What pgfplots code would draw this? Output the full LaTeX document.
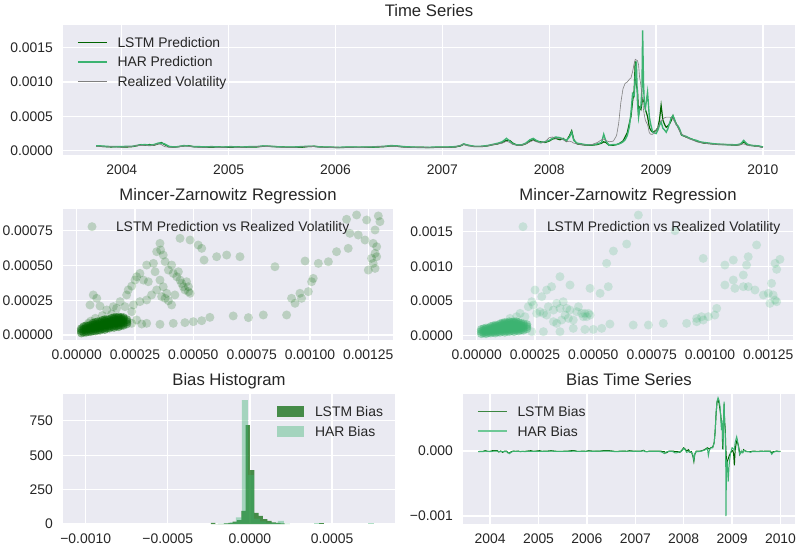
\documentclass[border=0pt]{standalone}
\usepackage{fontspec}
\setmainfont{Liberation Sans}
\usepackage{pgfplots}
\pgfplotsset{compat=1.18}
\usepackage{pgfplotstable}
\definecolor{axbg}{HTML}{EAEAF2}
\definecolor{txt}{HTML}{262626}
\definecolor{dgreen}{RGB}{0,100,0}
\definecolor{msgreen}{RGB}{60,179,113}
\definecolor{lstmleg}{RGB}{60,135,65}
\definecolor{harleg}{RGB}{110,200,150}

\pgfplotstableread{
t rv lstm har
2003.76 6e-5 7e-5 7e-5
2003.80 6e-5 6.5e-5 7e-5
2003.85 5.5e-5 6e-5 6.5e-5
2003.90 6e-5 5.5e-5 6e-5
2003.95 5.5e-5 6e-5 6e-5
2004.00 5e-5 5.5e-5 6e-5
2004.05 6e-5 5.5e-5 6.5e-5
2004.10 6.5e-5 6e-5 6.5e-5
2004.15 8e-5 7.5e-5 8e-5
2004.18 7.5e-5 9e-5 8.5e-5
2004.22 8e-5 8e-5 9e-5
2004.26 7e-5 9e-5 8e-5
2004.30 8e-5 8e-5 9e-5
2004.34 10e-5 10e-5 11e-5
2004.37 9e-5 12e-5 11e-5
2004.40 6e-5 9e-5 10e-5
2004.44 5e-5 6e-5 6.5e-5
2004.48 5e-5 5e-5 5.5e-5
2004.53 5.5e-5 6e-5 6e-5
2004.58 7e-5 7e-5 7.5e-5
2004.62 6.5e-5 7.5e-5 7e-5
2004.67 5.5e-5 6e-5 6e-5
2004.72 5e-5 5.5e-5 6e-5
2004.78 5e-5 5e-5 5.5e-5
2004.84 5.5e-5 5e-5 6e-5
2004.90 5e-5 5.5e-5 5.5e-5
2004.96 5e-5 5e-5 5.5e-5
2005.02 5.5e-5 5e-5 6e-5
2005.08 5e-5 5.5e-5 5.5e-5
2005.14 5e-5 5e-5 5.5e-5
2005.20 5.5e-5 5.5e-5 6e-5
2005.26 6e-5 5.5e-5 6e-5
2005.32 6.5e-5 6.5e-5 7e-5
2005.38 6e-5 6.5e-5 6.5e-5
2005.44 5.5e-5 6e-5 6e-5
2005.50 5e-5 5.5e-5 5.5e-5
2005.56 5e-5 5e-5 5.5e-5
2005.62 5e-5 5e-5 5.5e-5
2005.68 5.5e-5 5e-5 6e-5
2005.74 6.5e-5 6e-5 6.5e-5
2005.80 6e-5 6.5e-5 6.5e-5
2005.86 5e-5 5.5e-5 5.5e-5
2005.92 5e-5 5e-5 5.5e-5
2005.98 4.5e-5 5e-5 5e-5
2006.04 5e-5 4.5e-5 5e-5
2006.10 5e-5 5e-5 5.5e-5
2006.16 5e-5 5e-5 5.5e-5
2006.22 5e-5 5e-5 5e-5
2006.28 5e-5 5e-5 5.5e-5
2006.34 5.5e-5 5e-5 5.5e-5
2006.40 6e-5 5.5e-5 6e-5
2006.46 6.5e-5 6e-5 6.5e-5
2006.52 7e-5 7e-5 7.5e-5
2006.58 6e-5 6.5e-5 7e-5
2006.64 5e-5 5.5e-5 6e-5
2006.70 5e-5 5e-5 5.5e-5
2006.76 5e-5 5e-5 5e-5
2006.82 4.5e-5 5e-5 5e-5
2006.88 5e-5 4.5e-5 5e-5
2006.94 5e-5 5e-5 5.5e-5
2007.00 5e-5 5e-5 5.5e-5
2007.06 5e-5 5e-5 5.5e-5
2007.12 5.5e-5 5.5e-5 6e-5
2007.17 8e-5 7e-5 7.5e-5
2007.20 9e-5 9.5e-5 10e-5
2007.24 7e-5 8e-5 8e-5
2007.30 6e-5 6e-5 6.5e-5
2007.36 6e-5 6e-5 6.5e-5
2007.42 7e-5 7e-5 7.5e-5
2007.48 9e-5 9e-5 9.5e-5
2007.52 10e-5 10e-5 11e-5
2007.56 11e-5 12e-5 13e-5
2007.60 14e-5 15e-5 18e-5
2007.63 12e-5 15e-5 14e-5
2007.66 9e-5 11e-5 10e-5
2007.70 8e-5 8e-5 8.5e-5
2007.74 8e-5 8e-5 8.5e-5
2007.78 10e-5 10e-5 11e-5
2007.82 13e-5 14e-5 16e-5
2007.85 15e-5 16e-5 18e-5
2007.88 13e-5 14e-5 15e-5
2007.92 11e-5 13e-5 12e-5
2007.96 13e-5 12e-5 13e-5
2008.00 19e-5 14e-5 15e-5
2008.03 20e-5 17e-5 18e-5
2008.06 18e-5 18e-5 20e-5
2008.10 18e-5 16e-5 19e-5
2008.13 16e-5 18e-5 17e-5
2008.16 13e-5 14e-5 15e-5
2008.19 14e-5 22e-5 20e-5
2008.21 13e-5 29e-5 27e-5
2008.23 11e-5 16e-5 15e-5
2008.26 10e-5 10e-5 11e-5
2008.30 9e-5 9e-5 10e-5
2008.35 8e-5 8e-5 8.5e-5
2008.40 9e-5 8e-5 8.5e-5
2008.45 12e-5 9e-5 10e-5
2008.49 16e-5 11e-5 12e-5
2008.51 17e-5 13e-5 24e-5
2008.53 15e-5 12e-5 14e-5
2008.56 13e-5 8e-5 8e-5
2008.60 14e-5 8e-5 9e-5
2008.63 22e-5 9e-5 9e-5
2008.65 40e-5 10e-5 10e-5
2008.67 70e-5 12e-5 11e-5
2008.69 90e-5 14e-5 13e-5
2008.71 98e-5 20e-5 16e-5
2008.73 100e-5 26e-5 22e-5
2008.75 104e-5 40e-5 35e-5
2008.765 106e-5 50e-5 55e-5
2008.78 115e-5 72e-5 83e-5
2008.795 127e-5 88e-5 80e-5
2008.805 133e-5 130e-5 110e-5
2008.815 132e-5 95e-5 130e-5
2008.826 131e-5 88e-5 70e-5
2008.836 125e-5 52e-5 49e-5
2008.845 108e-5 63e-5 60e-5
2008.858 95e-5 60e-5 65e-5
2008.868 80e-5 70e-5 90e-5
2008.874 75e-5 75e-5 175e-5
2008.882 60e-5 72e-5 100e-5
2008.89 52e-5 73e-5 68e-5
2008.90 44e-5 60e-5 62e-5
2008.92 38e-5 50e-5 85e-5
2008.937 26e-5 34e-5 49e-5
2008.95 24e-5 30e-5 38e-5
2008.968 24e-5 27e-5 27e-5
2008.984 27e-5 28e-5 26e-5
2009.00 30e-5 30e-5 25e-5
2009.016 34e-5 33e-5 30e-5
2009.032 40e-5 45e-5 37e-5
2009.047 44e-5 66e-5 42e-5
2009.063 46e-5 45e-5 33e-5
2009.08 48e-5 38e-5 30e-5
2009.095 49e-5 34e-5 27e-5
2009.11 49e-5 36e-5 32e-5
2009.126 49e-5 39e-5 40e-5
2009.142 48e-5 44e-5 48e-5
2009.158 46e-5 51e-5 51e-5
2009.174 42e-5 44e-5 45e-5
2009.189 38e-5 39e-5 38e-5
2009.205 33e-5 35e-5 36e-5
2009.221 28e-5 30e-5 31e-5
2009.237 25e-5 23e-5 24e-5
2009.252 23e-5 22e-5 22e-5
2009.28 20e-5 20e-5 21e-5
2009.315 17e-5 18e-5 18e-5
2009.35 15e-5 16e-5 16e-5
2009.38 13e-5 14e-5 15e-5
2009.41 12e-5 12.5e-5 13e-5
2009.45 11e-5 11e-5 12e-5
2009.50 10e-5 10.5e-5 11e-5
2009.55 9e-5 9.5e-5 10e-5
2009.60 9e-5 9e-5 9.5e-5
2009.65 8.5e-5 9e-5 9e-5
2009.70 8.5e-5 8.5e-5 9e-5
2009.75 8e-5 8e-5 8.5e-5
2009.79 9e-5 9e-5 10e-5
2009.82 10e-5 13e-5 15e-5
2009.85 8e-5 9e-5 10e-5
2009.88 7e-5 8e-5 8e-5
2009.92 7e-5 7e-5 7.5e-5
2009.96 6e-5 6.5e-5 7e-5
2010.00 4.5e-5 5e-5 5.5e-5
}\tsdata

\pgfplotsset{
  sbstyle/.style={
    scale only axis, anchor=south west,
    axis background/.style={fill=axbg},
    separate axis lines, axis line style={draw=none},
    grid=major, major grid style={white, line width=1.3pt},
    major tick length=0pt, tick style={draw=none},
    scaled ticks=false,
    tick label style={font=\fontsize{13.9}{16}\selectfont, text=txt},
    xticklabel style={anchor=north, inner sep=0pt, yshift=-9.3pt},
    yticklabel style={anchor=east, inner sep=0pt, xshift=-10pt},
    title style={font=\fontsize{16.7}{20}\selectfont, text=txt, anchor=base, at={(0.5,1)}, yshift=2.5pt},
    legend cell align=left,
    legend style={draw opacity=0, fill opacity=0, text opacity=1, inner sep=0pt, outer sep=0pt, anchor=north west,
      font=\fontsize{13.9}{16}\selectfont\color{txt},
      nodes={inner sep=0pt, text height=9.95pt, text depth=0pt}},
  },
}

\begin{document}
\begin{tikzpicture}
\path[use as bounding box] (0pt,0pt) rectangle (800pt,550pt);

% Top: Time Series
\begin{axis}[sbstyle, at={(63pt,395pt)}, width=732pt, height=130pt,
  title={Time Series},
  xmin=2003.45, xmax=2010.30, ymin=-0.000062, ymax=0.00183,
  xtick={2004,2005,2006,2007,2008,2009,2010},
  xticklabels={2004,2005,2006,2007,2008,2009,2010},
  ytick={0,0.0005,0.001,0.0015},
  yticklabels={0.0000,0.0005,0.0010,0.0015},
  legend style={at={(0.01913,0.9054)}, row sep=9.55pt, column sep=10pt}]
\addplot[dgreen, line width=1.2pt,
  legend image code/.code={\draw[draw=dgreen, draw opacity=1, line width=1.5pt] (0pt,0pt) -- (29pt,0pt);}]
  table[x=t, y=lstm] {\tsdata};
\addlegendentry{LSTM Prediction}
\addplot[msgreen, line width=1.4pt,
  legend image code/.code={\draw[draw=msgreen, draw opacity=1, line width=1.5pt] (0pt,0pt) -- (29pt,0pt);}]
  table[x=t, y=har] {\tsdata};
\addlegendentry{HAR Prediction}
\addplot[gray, line width=0.6pt,
  legend image code/.code={\draw[draw=gray, draw opacity=1, line width=0.8pt] (0pt,0pt) -- (29pt,0pt);}]
  table[x=t, y=rv] {\tsdata};
\addlegendentry{Realized Volatility}
\end{axis}

% Middle left: MZ LSTM
\begin{axis}[sbstyle, at={(63pt,210pt)}, width=330pt, height=131pt,
  title={Mincer-Zarnowitz Regression},
  xmin=-0.0000587, xmax=0.001356, ymin=-0.0000359, ymax=0.000906,
  xtick={0,0.00025,0.0005,0.00075,0.001,0.00125},
  xticklabels={0.00000,0.00025,0.00050,0.00075,0.00100,0.00125},
  ytick={0,0.00025,0.0005,0.00075},
  yticklabels={0.00000,0.00025,0.00050,0.00075},
  legend style={at={(0.04545,0.9031)}, column sep=10pt}]
\addplot[only marks, mark=*, mark size=4.5pt,
  mark options={draw=dgreen, draw opacity=0, fill=dgreen, fill opacity=0.2},
  legend image code/.code={\path[draw=none,fill=none] (0pt,0pt) -- (28pt,0pt); \fill[fill=dgreen, fill opacity=0.2, draw=none] (14pt,0pt) circle (4.5pt);}]
coordinates {
(1.157e-3,0.832e-3) (1.200e-3,0.863e-3) (1.243e-3,0.827e-3) (1.293e-3,0.856e-3) (1.300e-3,0.815e-3)
(1.207e-3,0.719e-3) (1.171e-3,0.731e-3) (1.279e-3,0.755e-3) (1.271e-3,0.659e-3) (1.286e-3,0.635e-3)
(1.264e-3,0.551e-3) (1.279e-3,0.587e-3) (1.286e-3,0.563e-3) (1.271e-3,0.515e-3) (1.250e-3,0.467e-3)
(1.279e-3,0.479e-3) (1.236e-3,0.683e-3) (1.114e-3,0.599e-3) (1.164e-3,0.623e-3) (1.079e-3,0.527e-3)
(1.036e-3,0.515e-3) (0.979e-3,0.532e-3) (1.014e-3,0.407e-3) (1.007e-3,0.383e-3) (0.993e-3,0.312e-3)
(0.964e-3,0.264e-3) (0.957e-3,0.300e-3) (0.936e-3,0.228e-3) (0.921e-3,0.264e-3) (0.900e-3,0.144e-3)
(0.850e-3,0.491e-3) (0.800e-3,0.144e-3) (0.736e-3,0.125e-3) (0.671e-3,0.137e-3) (0.571e-3,0.127e-3)
(0.536e-3,0.103e-3) (0.500e-3,0.096e-3) (0.464e-3,0.089e-3) (0.414e-3,0.084e-3) (0.357e-3,0.077e-3)
(0.279e-3,0.079e-3) (0.236e-3,0.084e-3)
(0.221e-3,0.324e-3) (0.236e-3,0.352e-3) (0.250e-3,0.395e-3) (0.257e-3,0.419e-3) (0.271e-3,0.443e-3)
(0.286e-3,0.395e-3) (0.300e-3,0.503e-3) (0.307e-3,0.383e-3) (0.329e-3,0.515e-3) (0.336e-3,0.455e-3)
(0.343e-3,0.599e-3) (0.357e-3,0.659e-3) (0.360e-3,0.611e-3) (0.371e-3,0.575e-3) (0.379e-3,0.527e-3)
(0.393e-3,0.467e-3) (0.407e-3,0.503e-3) (0.414e-3,0.443e-3) (0.443e-3,0.695e-3) (0.486e-3,0.683e-3)
(0.521e-3,0.647e-3) (0.536e-3,0.623e-3) (0.546e-3,0.539e-3) (0.600e-3,0.563e-3) (0.643e-3,0.575e-3)
(0.700e-3,0.563e-3) (0.357e-3,0.395e-3) (0.371e-3,0.347e-3) (0.364e-3,0.276e-3) (0.379e-3,0.264e-3)
(0.393e-3,0.247e-3) (0.407e-3,0.216e-3) (0.386e-3,0.300e-3) (0.421e-3,0.288e-3) (0.429e-3,0.419e-3)
(0.443e-3,0.395e-3) (0.450e-3,0.371e-3) (0.457e-3,0.347e-3) (0.464e-3,0.324e-3) (0.471e-3,0.383e-3)
(0.479e-3,0.347e-3) (0.479e-3,0.312e-3) (0.486e-3,0.300e-3) (0.436e-3,0.455e-3) (0.343e-3,0.324e-3)
(0.321e-3,0.288e-3) (0.300e-3,0.252e-3) (0.271e-3,0.240e-3) (0.243e-3,0.216e-3) (0.214e-3,0.288e-3)
(0.186e-3,0.240e-3) (0.157e-3,0.204e-3) (0.086e-3,0.264e-3) (0.071e-3,0.288e-3) (0.057e-3,0.216e-3)
(0.100e-3,0.208e-3) (0.129e-3,0.180e-3) (0.171e-3,0.192e-3) (0.207e-3,0.204e-3) (0.236e-3,0.168e-3)
(0.257e-3,0.108e-3) (0.300e-3,0.084e-3)
(0.06e-3,0.10e-3) (0.08e-3,0.12e-3) (0.05e-3,0.085e-3) (0.11e-3,0.14e-3) (0.15e-3,0.15e-3)
};
\addlegendentry{LSTM Prediction vs Realized Volatility}
\addplot[forget plot, only marks, mark=*, mark size=4.5pt,
  mark options={draw=dgreen, draw opacity=0, fill=dgreen, fill opacity=0.45}]
coordinates {
(0.02e-3,0.015e-3) (0.02e-3,0.03e-3) (0.02e-3,0.045e-3)
(0.03e-3,0.02e-3) (0.03e-3,0.04e-3) (0.03e-3,0.06e-3)
(0.04e-3,0.02e-3) (0.04e-3,0.035e-3) (0.04e-3,0.05e-3) (0.04e-3,0.065e-3)
(0.05e-3,0.025e-3) (0.05e-3,0.045e-3) (0.05e-3,0.065e-3)
(0.06e-3,0.025e-3) (0.06e-3,0.04e-3) (0.06e-3,0.055e-3) (0.06e-3,0.07e-3)
(0.07e-3,0.03e-3) (0.07e-3,0.05e-3) (0.07e-3,0.07e-3) (0.07e-3,0.085e-3)
(0.08e-3,0.03e-3) (0.08e-3,0.045e-3) (0.08e-3,0.06e-3) (0.08e-3,0.075e-3) (0.08e-3,0.09e-3)
(0.09e-3,0.035e-3) (0.09e-3,0.055e-3) (0.09e-3,0.075e-3) (0.09e-3,0.095e-3)
(0.10e-3,0.035e-3) (0.10e-3,0.05e-3) (0.10e-3,0.065e-3) (0.10e-3,0.08e-3) (0.10e-3,0.095e-3)
(0.11e-3,0.045e-3) (0.11e-3,0.065e-3) (0.11e-3,0.085e-3) (0.11e-3,0.105e-3)
(0.12e-3,0.04e-3) (0.12e-3,0.055e-3) (0.12e-3,0.07e-3) (0.12e-3,0.085e-3) (0.12e-3,0.10e-3) (0.12e-3,0.11e-3)
(0.13e-3,0.05e-3) (0.13e-3,0.07e-3) (0.13e-3,0.09e-3) (0.13e-3,0.11e-3)
(0.14e-3,0.05e-3) (0.14e-3,0.065e-3) (0.14e-3,0.08e-3) (0.14e-3,0.095e-3) (0.14e-3,0.11e-3)
(0.15e-3,0.06e-3) (0.15e-3,0.08e-3) (0.15e-3,0.10e-3) (0.15e-3,0.12e-3)
(0.16e-3,0.055e-3) (0.16e-3,0.07e-3) (0.16e-3,0.085e-3) (0.16e-3,0.10e-3) (0.16e-3,0.115e-3) (0.16e-3,0.125e-3)
(0.17e-3,0.065e-3) (0.17e-3,0.085e-3) (0.17e-3,0.105e-3) (0.17e-3,0.125e-3)
(0.18e-3,0.06e-3) (0.18e-3,0.075e-3) (0.18e-3,0.09e-3) (0.18e-3,0.105e-3) (0.18e-3,0.12e-3) (0.18e-3,0.13e-3)
(0.19e-3,0.07e-3) (0.19e-3,0.09e-3) (0.19e-3,0.11e-3) (0.19e-3,0.125e-3)
(0.20e-3,0.07e-3) (0.20e-3,0.085e-3) (0.20e-3,0.10e-3) (0.20e-3,0.115e-3) (0.20e-3,0.125e-3)
(0.215e-3,0.08e-3) (0.215e-3,0.095e-3) (0.215e-3,0.11e-3)
};
\end{axis}

% Middle right: MZ HAR
\begin{axis}[sbstyle, at={(463pt,210pt)}, width=330pt, height=131pt,
  title={Mincer-Zarnowitz Regression},
  xmin=-0.0000587, xmax=0.001356, ymin=-0.000062, ymax=0.001827,
  xtick={0,0.00025,0.0005,0.00075,0.001,0.00125},
  xticklabels={0.00000,0.00025,0.00050,0.00075,0.00100,0.00125},
  ytick={0,0.0005,0.001,0.0015},
  yticklabels={0.0000,0.0005,0.0010,0.0015},
  legend style={at={(0.1394,0.9031)}, column sep=10pt}]
\addplot[only marks, mark=*, mark size=4.5pt,
  mark options={draw=msgreen, draw opacity=0, fill=msgreen, fill opacity=0.2},
  legend image code/.code={\path[draw=none,fill=none] (0pt,0pt) -- (28pt,0pt); \fill[fill=msgreen, fill opacity=0.2, draw=none] (14pt,0pt) circle (4.5pt);}]
coordinates {
(0.693e-3,1.740e-3) (0.850e-3,1.514e-3) (0.643e-3,1.322e-3) (0.586e-3,1.221e-3) (0.557e-3,1.043e-3)
(0.971e-3,1.115e-3) (1.100e-3,1.091e-3) (1.064e-3,1.019e-3) (1.164e-3,1.139e-3) (1.200e-3,1.308e-3)
(1.300e-3,1.101e-3) (1.286e-3,0.957e-3) (1.279e-3,1.043e-3) (1.157e-3,1.019e-3) (1.143e-3,0.875e-3)
(1.100e-3,0.803e-3) (1.064e-3,0.731e-3) (1.107e-3,0.683e-3) (1.143e-3,0.707e-3) (1.164e-3,0.707e-3)
(1.193e-3,0.659e-3) (1.229e-3,0.587e-3) (1.250e-3,0.611e-3) (1.264e-3,0.755e-3) (1.271e-3,0.587e-3)
(1.257e-3,0.466e-3) (1.279e-3,0.514e-3) (1.286e-3,0.490e-3)
(1.029e-3,0.394e-3) (0.993e-3,0.274e-3) (0.964e-3,0.274e-3) (0.943e-3,0.250e-3) (0.900e-3,0.178e-3)
(1.021e-3,0.298e-3) (0.943e-3,0.202e-3) (0.971e-3,0.226e-3) (0.800e-3,0.178e-3) (0.736e-3,0.154e-3)
(0.671e-3,0.154e-3) (0.571e-3,0.168e-3) (0.536e-3,0.106e-3) (0.500e-3,0.091e-3) (0.464e-3,0.091e-3)
(0.414e-3,0.106e-3) (0.357e-3,0.058e-3) (0.286e-3,0.058e-3) (0.236e-3,0.058e-3)
(0.529e-3,0.611e-3) (0.564e-3,0.707e-3) (0.486e-3,0.683e-3) (0.400e-3,0.731e-3) (0.357e-3,0.851e-3)
(0.321e-3,0.707e-3) (0.300e-3,0.659e-3) (0.279e-3,0.563e-3) (0.250e-3,0.659e-3) (0.236e-3,0.490e-3)
(0.243e-3,0.442e-3) (0.221e-3,0.418e-3) (0.186e-3,0.322e-3) (0.207e-3,0.274e-3) (0.271e-3,0.346e-3)
(0.286e-3,0.322e-3) (0.307e-3,0.418e-3) (0.329e-3,0.370e-3) (0.343e-3,0.466e-3) (0.357e-3,0.394e-3)
(0.371e-3,0.490e-3) (0.386e-3,0.394e-3) (0.393e-3,0.250e-3) (0.379e-3,0.298e-3) (0.400e-3,0.370e-3)
(0.414e-3,0.226e-3) (0.429e-3,0.346e-3) (0.436e-3,0.418e-3) (0.450e-3,0.322e-3) (0.457e-3,0.274e-3)
(0.464e-3,0.322e-3) (0.471e-3,0.274e-3) (0.479e-3,0.322e-3) (0.486e-3,0.298e-3) (0.343e-3,0.178e-3)
(0.329e-3,0.202e-3) (0.364e-3,0.226e-3) (0.300e-3,0.298e-3) (0.257e-3,0.322e-3) (0.171e-3,0.274e-3)
(0.143e-3,0.250e-3)
};
\addlegendentry{LSTM Prediction vs Realized Volatility}
\addplot[forget plot, only marks, mark=*, mark size=4.5pt,
  mark options={draw=msgreen, draw opacity=0, fill=msgreen, fill opacity=0.45}]
coordinates {
(0.02e-3,0.03e-3) (0.02e-3,0.06e-3) (0.02e-3,0.09e-3)
(0.03e-3,0.04e-3) (0.03e-3,0.07e-3) (0.03e-3,0.10e-3)
(0.04e-3,0.03e-3) (0.04e-3,0.06e-3) (0.04e-3,0.09e-3) (0.04e-3,0.11e-3)
(0.05e-3,0.045e-3) (0.05e-3,0.075e-3) (0.05e-3,0.105e-3)
(0.06e-3,0.04e-3) (0.06e-3,0.07e-3) (0.06e-3,0.10e-3) (0.06e-3,0.13e-3)
(0.07e-3,0.05e-3) (0.07e-3,0.08e-3) (0.07e-3,0.11e-3) (0.07e-3,0.14e-3)
(0.08e-3,0.04e-3) (0.08e-3,0.07e-3) (0.08e-3,0.10e-3) (0.08e-3,0.13e-3) (0.08e-3,0.15e-3)
(0.09e-3,0.055e-3) (0.09e-3,0.085e-3) (0.09e-3,0.115e-3) (0.09e-3,0.145e-3)
(0.10e-3,0.05e-3) (0.10e-3,0.08e-3) (0.10e-3,0.11e-3) (0.10e-3,0.14e-3) (0.10e-3,0.17e-3)
(0.11e-3,0.065e-3) (0.11e-3,0.095e-3) (0.11e-3,0.125e-3) (0.11e-3,0.155e-3) (0.11e-3,0.18e-3)
(0.12e-3,0.05e-3) (0.12e-3,0.08e-3) (0.12e-3,0.11e-3) (0.12e-3,0.14e-3) (0.12e-3,0.17e-3) (0.12e-3,0.19e-3)
(0.13e-3,0.065e-3) (0.13e-3,0.095e-3) (0.13e-3,0.125e-3) (0.13e-3,0.155e-3) (0.13e-3,0.185e-3)
(0.14e-3,0.06e-3) (0.14e-3,0.09e-3) (0.14e-3,0.12e-3) (0.14e-3,0.15e-3) (0.14e-3,0.18e-3) (0.14e-3,0.20e-3)
(0.15e-3,0.075e-3) (0.15e-3,0.105e-3) (0.15e-3,0.135e-3) (0.15e-3,0.165e-3) (0.15e-3,0.195e-3)
(0.16e-3,0.06e-3) (0.16e-3,0.09e-3) (0.16e-3,0.12e-3) (0.16e-3,0.15e-3) (0.16e-3,0.18e-3) (0.16e-3,0.20e-3)
(0.17e-3,0.08e-3) (0.17e-3,0.11e-3) (0.17e-3,0.14e-3) (0.17e-3,0.17e-3) (0.17e-3,0.20e-3)
(0.18e-3,0.07e-3) (0.18e-3,0.10e-3) (0.18e-3,0.13e-3) (0.18e-3,0.16e-3) (0.18e-3,0.19e-3)
(0.19e-3,0.085e-3) (0.19e-3,0.115e-3) (0.19e-3,0.145e-3) (0.19e-3,0.175e-3)
(0.20e-3,0.08e-3) (0.20e-3,0.11e-3) (0.20e-3,0.14e-3) (0.20e-3,0.17e-3)
(0.215e-3,0.10e-3) (0.215e-3,0.13e-3) (0.215e-3,0.16e-3)
};
\end{axis}

% Bottom left: Bias Histogram
\begin{axis}[sbstyle, at={(63pt,26pt)}, width=332pt, height=130pt,
  title={Bias Histogram},
  xmin=-0.001138, xmax=0.000883, ymin=0, ymax=945,
  xtick={-0.001,-0.0005,0,0.0005},
  xticklabels={−0.0010,−0.0005,0.0000,0.0005},
  ytick={0,250,500,750},
  yticklabels={0,250,500,750},
  legend style={at={(0.6446,0.9077)}, row sep=9pt, column sep=11pt}]
\addplot[ybar interval, fill=dgreen, fill opacity=0.7, draw=none,
  legend image code/.code={\fill[fill=dgreen, fill opacity=0.7, draw=none] (0pt,-5.5pt) rectangle (27pt,5.5pt);}]
coordinates {(-23.76e-5,8) (-21.12e-5,0) (-18.48e-5,0) (-15.84e-5,4) (-13.2e-5,8) (-10.56e-5,17) (-7.92e-5,29) (-5.28e-5,95) (-2.64e-5,718) (0,392) (2.64e-5,80) (5.28e-5,60) (7.92e-5,36) (10.56e-5,22) (13.2e-5,12) (15.84e-5,8) (18.48e-5,4) (21.12e-5,0)};
\addlegendentry{LSTM Bias}
\addplot[ybar interval, fill=dgreen, fill opacity=0.7, draw=none, forget plot]
coordinates {(42.24e-5,6) (44.88e-5,0)};
\addplot[ybar interval, fill=msgreen, fill opacity=0.4, draw=none,
  legend image code/.code={\fill[fill=msgreen, fill opacity=0.4, draw=none] (0pt,-5.5pt) rectangle (27pt,5.5pt);}]
coordinates {(-19.47e-5,3) (-15.82e-5,5) (-12.17e-5,12) (-8.52e-5,48) (-4.87e-5,900) (-1.22e-5,356) (2.43e-5,40) (6.08e-5,20) (9.73e-5,10) (13.38e-5,8) (17.03e-5,22) (20.68e-5,3) (24.33e-5,0)};
\addlegendentry{HAR Bias}
\addplot[ybar interval, fill=msgreen, fill opacity=0.4, draw=none, forget plot]
coordinates {(38.93e-5,8) (42.58e-5,0)};
\addplot[ybar interval, fill=msgreen, fill opacity=0.4, draw=none, forget plot]
coordinates {(71.78e-5,6) (75.43e-5,0)};
\end{axis}

% Bottom right: Bias Time Series
\begin{axis}[sbstyle, at={(463pt,26pt)}, width=332pt, height=130pt,
  title={Bias Time Series},
  xmin=2003.44, xmax=2010.30, ymin=-0.001123, ymax=0.000877,
  xtick={2004,2005,2006,2007,2008,2009,2010},
  xticklabels={2004,2005,2006,2007,2008,2009,2010},
  ytick={-0.001,0},
  yticklabels={−0.001,0.000},
  legend style={at={(0.04217,0.9023)}, row sep=9.55pt, column sep=10pt}]
\addplot[dgreen, line width=1pt,
  legend image code/.code={\draw[draw=lstmleg, draw opacity=1, line width=1.5pt] (0pt,0pt) -- (29pt,0pt);}]
  table[x=t, y expr=\thisrow{rv}-\thisrow{lstm}] {\tsdata};
\addlegendentry{LSTM Bias}
\addplot[msgreen, line width=1pt,
  legend image code/.code={\draw[draw=harleg, draw opacity=1, line width=1.5pt] (0pt,0pt) -- (29pt,0pt);}]
  table[x=t, y expr=\thisrow{rv}-\thisrow{har}] {\tsdata};
\addlegendentry{HAR Bias}
\end{axis}
\end{tikzpicture}
\end{document}
